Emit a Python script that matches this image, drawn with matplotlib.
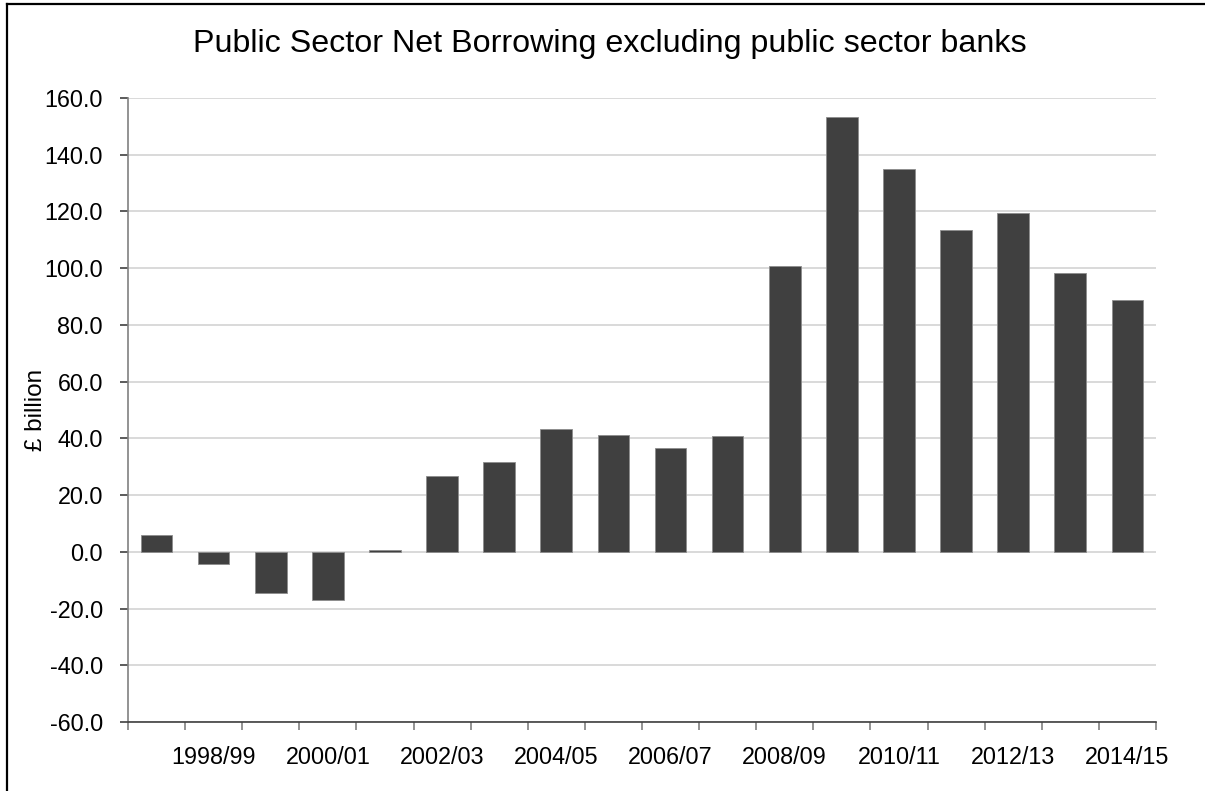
import matplotlib.pyplot as plt
from matplotlib.lines import Line2D

plt.rcParams['font.family'] = ['Liberation Sans', 'DejaVu Sans']

years = ["1997/98", "1998/99", "1999/00", "2000/01", "2001/02", "2002/03",
         "2003/04", "2004/05", "2005/06", "2006/07", "2007/08", "2008/09",
         "2009/10", "2010/11", "2011/12", "2012/13", "2013/14", "2014/15"]
psnb = [6.0, -4.3, -14.5, -17.0, 0.7, 26.6, 31.5, 43.3, 41.3, 36.7, 40.7,
        100.7, 153.3, 134.8, 113.3, 119.6, 98.4, 88.9]
y_ticks = [-60, -40, -20, 0, 20, 40, 60, 80, 100, 120, 140, 160]

fig = plt.figure(figsize=(12.05, 7.91), dpi=100)
ax = fig.add_axes([0.1062, 0.0872, 0.8531, 0.7889])

x = list(range(len(years)))
ax.bar(x, psnb, width=0.555, color='#404040', edgecolor='#8c8c8c',
       linewidth=0.6, zorder=3)

ax.set_xlim(-0.5, len(years) - 0.5)
ax.set_ylim(-60, 160)
ax.set_yticks(y_ticks)
ax.set_yticklabels(["{:.1f}".format(v) for v in y_ticks])
ax.grid(axis='y', color='#d9d9d9', linewidth=1.4, zorder=0)

# category labels every second year, tick marks between categories
ax.set_xticks(x[1::2])
ax.set_xticklabels(years[1::2])
ax.set_xticks([i - 0.5 for i in range(len(years) + 1)], minor=True)
ax.tick_params(axis='x', which='major', length=0, pad=17, labelsize=16.8)
ax.tick_params(axis='x', which='minor', length=6, width=1.2, color='#808080',
               direction='out')
ax.tick_params(axis='y', length=6, width=1.2, color='#404040', pad=12,
               labelsize=16.8)

for side in ['top', 'right']:
    ax.spines[side].set_visible(False)
ax.spines['left'].set_color('#808080')
ax.spines['left'].set_linewidth(1.2)
ax.spines['bottom'].set_color('#404040')
ax.spines['bottom'].set_linewidth(1.2)
ax.spines['bottom'].set_zorder(4)

ax.set_ylabel("£ billion", fontsize=17.5)
ax.yaxis.set_label_coords(-0.079, 0.5)

fig.text(0.506, 0.945, "Public Sector Net Borrowing excluding public sector banks",
         ha='center', va='center', fontsize=23.2)

# outer frame (left and top edges)
fig.add_artist(Line2D([7 / 1205, 7 / 1205], [-0.01, 1 - 4 / 791],
                      color='black', linewidth=1.6, transform=fig.transFigure))
fig.add_artist(Line2D([7 / 1205, 1.01], [1 - 4 / 791, 1 - 4 / 791],
                      color='black', linewidth=1.6, transform=fig.transFigure))

fig.savefig('out.png', dpi=100)
